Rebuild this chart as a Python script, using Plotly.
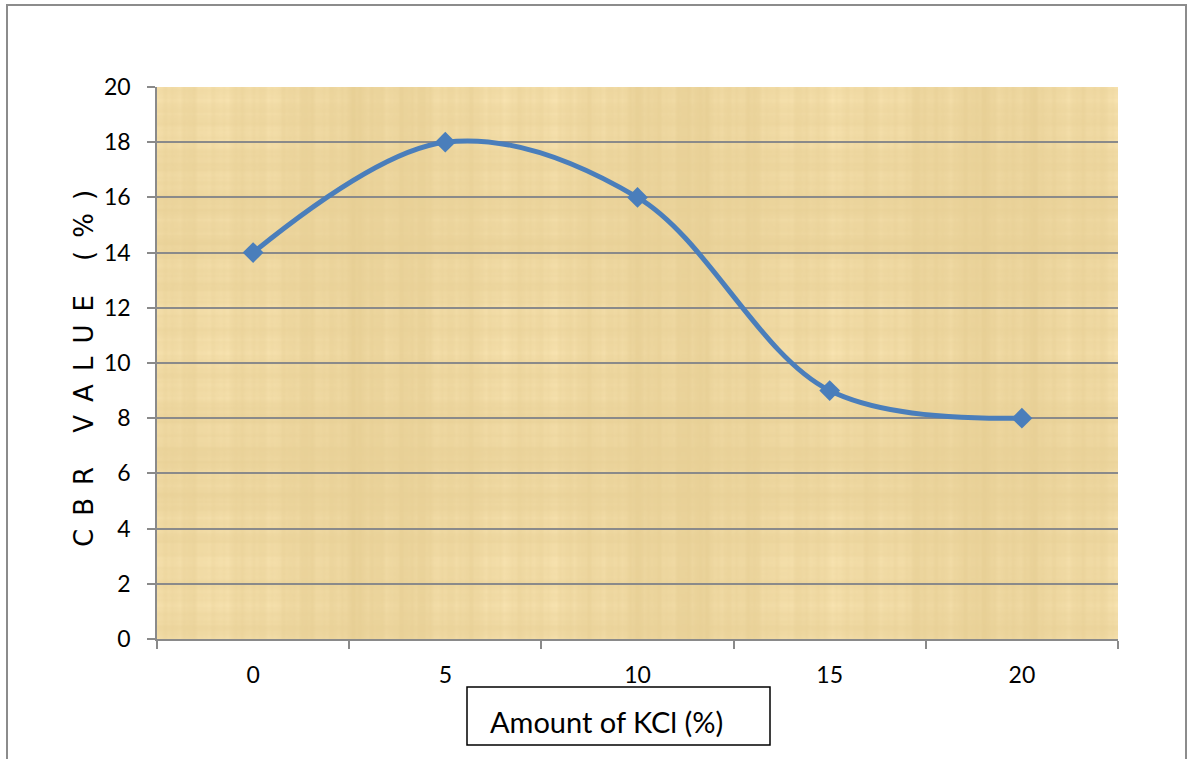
import base64
import struct
import zlib

import numpy as np
import plotly.graph_objects as go

# CBR test results for soil treated with potassium chloride
kcl_amount = ["0", "5", "10", "15", "20"]
cbr_value = [14, 18, 16, 9, 8]
y_ticks = [0, 2, 4, 6, 8, 10, 12, 14, 16, 18, 20]

W, H = 1188, 759
ML, MR, MT, MB = 157, 70, 87, 120
PW, PH = W - ML - MR, H - MT - MB


def px_x(p):
    return (p - ML) / PW


def px_y(p):
    return (H - MB - p) / PH


def png_data_uri(rgb):
    """Encode an (h, w, 3) uint8 array as a PNG data URI."""
    h, w, _ = rgb.shape
    raw = b"".join(b"\x00" + rgb[r].tobytes() for r in range(h))

    def chunk(tag, data):
        body = tag + data
        return struct.pack(">I", len(data)) + body + struct.pack(">I", zlib.crc32(body) & 0xFFFFFFFF)

    png = (b"\x89PNG\r\n\x1a\n"
           + chunk(b"IHDR", struct.pack(">IIBBBBB", w, h, 8, 2, 0, 0, 0))
           + chunk(b"IDAT", zlib.compress(raw, 9))
           + chunk(b"IEND", b""))
    return "data:image/png;base64," + base64.b64encode(png).decode()


def papyrus_texture(w=480, h=276):
    """Fibrous parchment fill built from layered stripes."""
    x = np.linspace(0, 1, w)
    y = np.linspace(0, 1, h)
    tau = 2 * np.pi
    vx = (0.50 * np.sin(tau * 3.1 * x + 0.4) + 0.30 * np.sin(tau * 17 * x + 1.3)
          + 0.25 * np.sin(tau * 41 * x + 2.1) + 0.18 * np.sin(tau * 97 * x + 0.7)
          + 0.12 * np.sin(tau * 163 * x + 2.9))
    vy = (0.40 * np.sin(tau * 2.3 * y + 1.1) + 0.30 * np.sin(tau * 13 * y + 0.2)
          + 0.22 * np.sin(tau * 37 * y + 2.5) + 0.15 * np.sin(tau * 83 * y + 1.9)
          + 0.10 * np.sin(tau * 151 * y + 0.6))
    v = 0.55 * vx[None, :] + 0.45 * vy[:, None] + 0.35 * vx[None, :] * vy[:, None]
    base = np.array([237.0, 214.0, 158.0])
    gain = np.array([8.0, 9.5, 13.0])
    img = base[None, None, :] + v[:, :, None] * gain[None, None, :]
    return np.clip(img, 0, 255).astype(np.uint8)


grid = "#8a8a8a"
tick_font = dict(family="Lato, Open Sans, sans-serif", size=23, color="#000000")

fig = go.Figure()
fig.add_trace(go.Scatter(
    x=kcl_amount,
    y=cbr_value,
    mode="lines+markers",
    line=dict(color="#4a7ebb", width=5, shape="spline", smoothing=1.0),
    marker=dict(symbol="diamond", size=16, color="#4a7ebb"),
    showlegend=False,
    cliponaxis=False,
))

fig.update_layout(
    width=W, height=H,
    margin=dict(l=ML, r=MR, t=MT, b=MB),
    paper_bgcolor="#ffffff",
    plot_bgcolor="#edd69f",
    xaxis=dict(
        type="category",
        tickson="boundaries",
        ticks="outside", ticklen=8, tickwidth=1.5, tickcolor=grid,
        showline=True, linecolor=grid, linewidth=1.5,
        showgrid=False, zeroline=False,
        tickfont=tick_font,
        ticklabelstandoff=15,
        range=[-0.5, 4.5],
    ),
    yaxis=dict(
        range=[0, 20],
        tickvals=y_ticks,
        ticks="outside", ticklen=8, tickwidth=1.5, tickcolor=grid,
        showline=True, linecolor=grid, linewidth=1.5,
        showgrid=True, gridcolor=grid, gridwidth=1.5,
        zeroline=False,
        tickfont=tick_font,
        ticklabelstandoff=12,
    ),
)

# parchment fill of the plotting area
fig.add_layout_image(
    source=png_data_uri(papyrus_texture()), xref="paper", yref="paper",
    x=0, y=1, sizex=1, sizey=1, xanchor="left", yanchor="top",
    sizing="stretch", layer="below",
)

# outer chart frame
fig.add_shape(type="rect", xref="paper", yref="paper",
              x0=px_x(7), x1=px_x(1186), y0=px_y(775), y1=px_y(5),
              line=dict(color="#8c8c8c", width=2), fillcolor="rgba(0,0,0,0)",
              layer="above")

# boxed x-axis title
fig.add_shape(type="rect", xref="paper", yref="paper",
              x0=px_x(467), x1=px_x(770), y0=px_y(745), y1=px_y(687),
              line=dict(color="#000000", width=1.5), fillcolor="#ffffff")
fig.add_annotation(text="Amount of KCl (%)", xref="paper", yref="paper",
                   x=px_x(488), y=px_y(722), xanchor="left", yanchor="middle",
                   showarrow=False,
                   font=dict(family="Lato, Open Sans, sans-serif", size=29, color="#000000"))

# rotated, letter-spaced y-axis title
gap = "\u2002"
word_gap = gap + " " + gap
ytitle = word_gap.join(gap.join(list(word)) for word in ["CBR", "VALUE", "(%)"])
fig.add_annotation(text=ytitle, xref="paper", yref="paper",
                   x=px_x(84), y=px_y(369), xanchor="center", yanchor="middle",
                   textangle=-90, showarrow=False,
                   font=dict(family="DejaVu Sans, sans-serif", size=26, color="#000000"))

fig.write_html("out.html")
